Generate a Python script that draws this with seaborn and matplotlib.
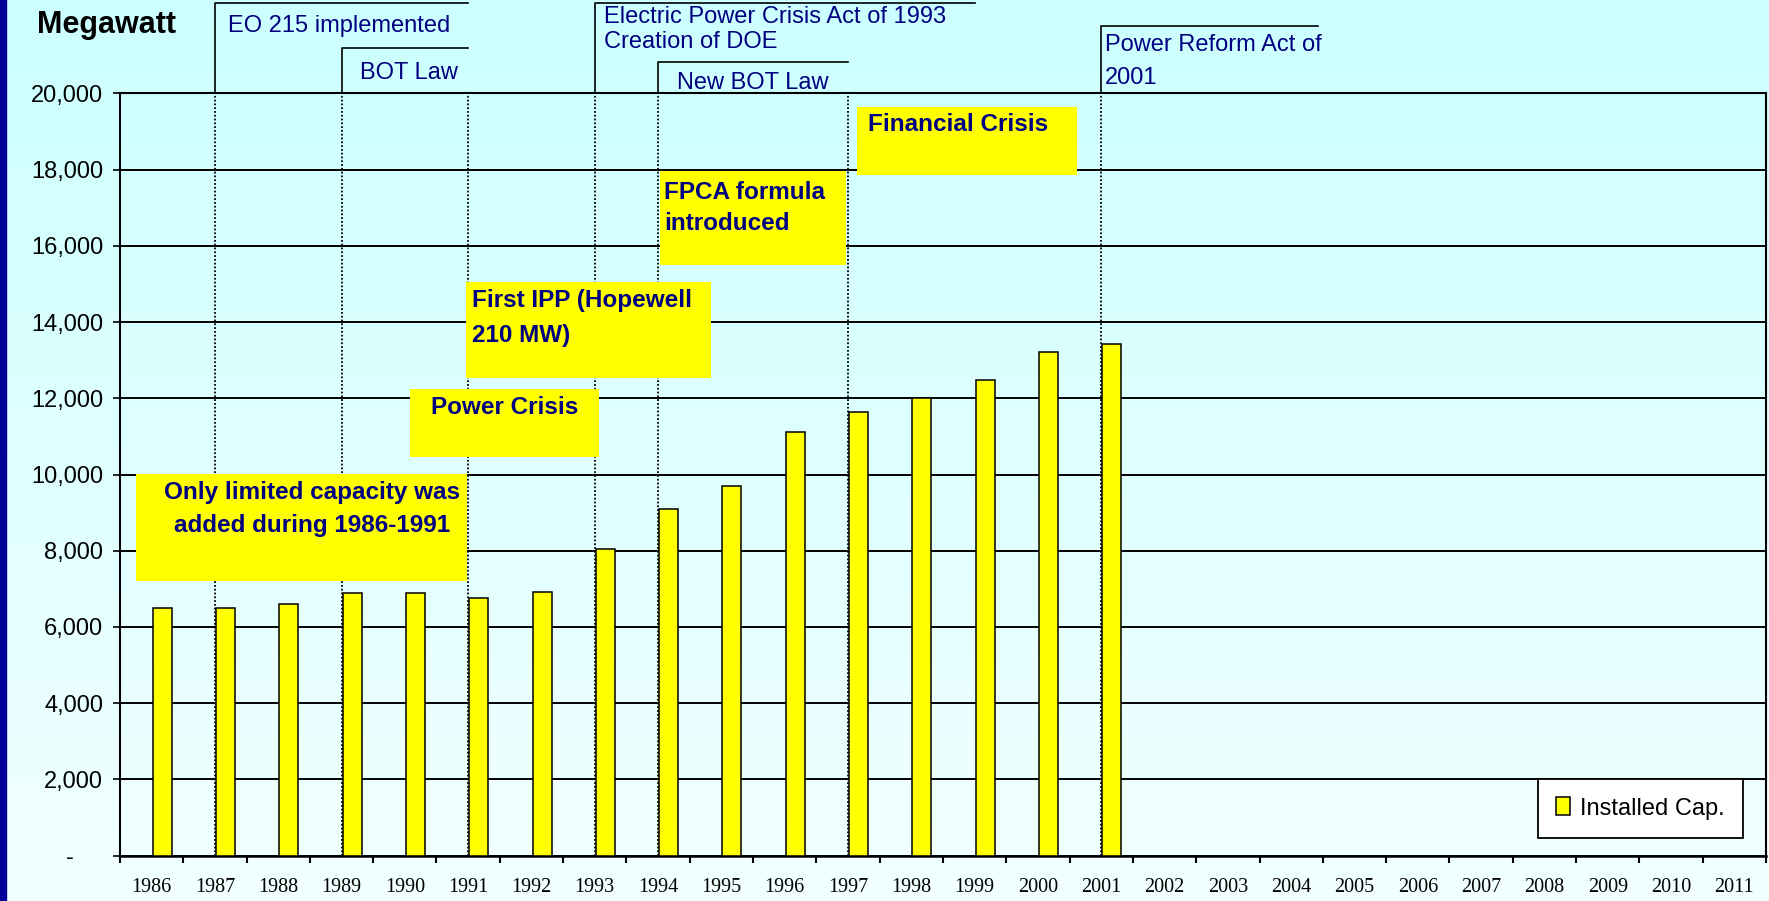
import numpy as np
import pandas as pd
import matplotlib.pyplot as plt
import matplotlib.transforms as mtransforms
from matplotlib.colors import LinearSegmentedColormap
from matplotlib.patches import Rectangle
from matplotlib import font_manager
import seaborn as sns

years = ['1986', '1987', '1988', '1989', '1990', '1991', '1992', '1993', '1994',
         '1995', '1996', '1997', '1998', '1999', '2000', '2001', '2002', '2003',
         '2004', '2005', '2006', '2007', '2008', '2009', '2010', '2011']
cap_years = ['1986', '1987', '1988', '1989', '1990', '1991', '1992', '1993',
             '1994', '1995', '1996', '1997', '1998', '1999', '2000', '2001']
cap_mw = [6500, 6500, 6590, 6880, 6880, 6770, 6930, 8040,
          9100, 9690, 11110, 11650, 12000, 12470, 13210, 13420]
y_ticks = [0, 2000, 4000, 6000, 8000, 10000, 12000, 14000, 16000, 18000, 20000]
y_labels = ['-', '2,000', '4,000', '6,000', '8,000', '10,000', '12,000',
            '14,000', '16,000', '18,000', '20,000']

# event markers: dotted line years, and brackets (start year, end position, height)
event_years = ['1987', '1989', '1991', '1993', '1994', '1997', '2001']
brackets = [('1987', 5, 1.118), ('1989', 5, 1.059), ('1993', 13, 1.119),
            ('1994', 11, 1.041), ('2001', 18.43, 1.088)]
# (text, x, y in axes fraction)
top_notes = [('EO 215 implemented', 1.21, 1.088), ('BOT Law', 3.29, 1.027),
             ('Electric Power Crisis Act of 1993', 7.15, 1.100),
             ('Creation of DOE', 7.15, 1.067), ('New BOT Law', 8.30, 1.013),
             ('Power Reform Act of', 15.06, 1.063), ('2001', 15.06, 1.020)]
# yellow boxes: (x0, x1, y0, y1)
boxes = [(-0.25, 4.98, 7210, 10010), (4.08, 7.07, 10460, 12240),
         (4.97, 8.84, 12530, 15050), (8.03, 10.97, 15490, 17960),
         (11.14, 14.62, 17860, 19640)]
# (text, x, y, ha)
box_notes = [('Only limited capacity was', 2.53, 9541, 'center'),
             ('added during 1986-1991', 2.53, 8675, 'center'),
             ('Power Crisis', 5.57, 11767, 'center'),
             ('First IPP (Hopewell', 5.06, 14554, 'left'),
             ('210 MW)', 5.06, 13636, 'left'),
             ('FPCA formula', 8.09, 17409, 'left'),
             ('introduced', 8.09, 16596, 'left'),
             ('Financial Crisis', 11.32, 19193, 'left')]

navy = '#000080'
plt.rcParams['font.family'] = ['Liberation Sans', 'DejaVu Sans']
installed = {f.name for f in font_manager.fontManager.ttflist}

fig = plt.figure(figsize=(17.69, 9.01), dpi=100)

# background gradient and left strip
bg = fig.add_axes([0, 0, 1, 1], zorder=-10)
grad = np.linspace(0, 1, 256).reshape(-1, 1)
bg.imshow(grad, aspect='auto', extent=[0, 1, 0, 1], origin='upper',
          cmap=LinearSegmentedColormap.from_list('bg', ['#CCFFFF', '#F2FFFF']))
bg.axvspan(0, 6 / 1769, color='#000099')
bg.set_xlim(0, 1)
bg.set_ylim(0, 1)
bg.set_axis_off()

ax = fig.add_axes([0.0678, 0.0503, 0.9305, 0.8461])
ax.patch.set_alpha(0)

df = pd.DataFrame({'year': cap_years, 'mw': cap_mw})
sns.barplot(data=df, x='year', y='mw', order=years, color='#FFFF00', saturation=1,
            edgecolor='black', linewidth=1.1, width=0.3, label='Installed Cap.',
            ax=ax, zorder=3)
for bar in ax.patches:
    bar.set_x(bar.get_x() + 0.167)

ax.set_xlim(-0.5, len(years) - 0.5)
ax.set_ylim(0, 20000)
ax.set_xlabel('')
ax.set_ylabel('')
ax.set_yticks(y_ticks)
ax.set_yticklabels(y_labels, fontsize=17)
ax.yaxis.grid(True, color='black', lw=1.4, zorder=1)
ax.set_axisbelow(True)
ax.tick_params(axis='y', length=5, width=1.2, pad=7, color='black')
ax.set_xticks(range(len(years)))
ax.set_xticklabels(years, fontsize=14.5, family='Liberation Serif')
ax.set_xticks(np.arange(-0.5, len(years), 1), minor=True)
ax.tick_params(axis='x', which='major', length=0, pad=16)
ax.tick_params(axis='x', which='minor', length=5, width=1.5, color='black')
for side in ['left', 'right', 'top', 'bottom']:
    ax.spines[side].set_color('black')
    ax.spines[side].set_linewidth(1.5)
ax.spines['bottom'].set_linewidth(1.8)

zero_lbl = ax.get_yticklabels()[0]
zero_lbl.set_transform(zero_lbl.get_transform() +
                       mtransforms.ScaledTranslation(-0.30, 0, fig.dpi_scale_trans))

# event lines
ev_idx = [years.index(y) for y in event_years]
ax.vlines(ev_idx, 0, 20000, colors='black', linestyles=(0, (1, 1.1)), lw=1.3, zorder=2)
trans = mtransforms.blended_transform_factory(ax.transData, ax.transAxes)
for start, end, lev in brackets:
    x0 = years.index(start)
    ax.plot([x0, x0, end], [1.0, lev, lev], color='black', lw=1.2,
            transform=trans, clip_on=False)
for txt, x, y in top_notes:
    ax.text(x, y, txt, transform=trans, color=navy, fontsize=17,
            ha='left', va='center', clip_on=False)

for x0, x1, y0, y1 in boxes:
    ax.add_patch(Rectangle((x0, y0), x1 - x0, y1 - y0, facecolor='#FFFF00',
                           edgecolor='none', zorder=4))
for txt, x, y, ha in box_notes:
    ax.text(x, y, txt, color=navy, fontsize=17.5, fontweight='bold',
            ha=ha, va='center', zorder=5)

fig.text(37 / 1769, (901 - 25) / 901, 'Megawatt', fontsize=22, fontweight='bold',
         ha='left', va='center')

if 'Liberation Sans Narrow' in installed:
    leg_prop = {'family': 'Liberation Sans Narrow', 'size': 20}
else:
    leg_prop = {'family': 'Liberation Sans', 'size': 17}
leg = ax.legend(loc='lower right', bbox_to_anchor=(0.986, 0.0232), prop=leg_prop,
                frameon=True, fancybox=False, edgecolor='black', facecolor='white',
                framealpha=1, borderaxespad=0, borderpad=0.78, handlelength=0.6,
                handleheight=0.8, handletextpad=0.4)
leg.get_frame().set_linewidth(1.3)
leg.set_zorder(6)

fig.savefig('out.png', dpi=100)
